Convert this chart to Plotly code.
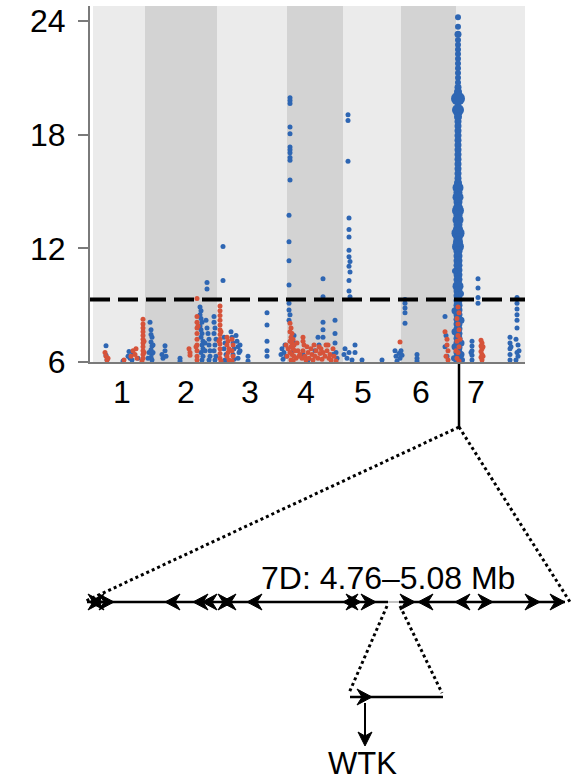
import plotly.graph_objects as go

# ------------------------------------------------------------------ data
chrom_labels = ['1', '2', '3', '4', '5', '6', '7']
chrom_starts = [0, 52, 124, 194, 250, 308, 363]
chrom_ends = [52, 124, 194, 250, 308, 363, 432]
chrom_label_pos = [29, 93, 157, 213, 270, 328, 383]
y_ticks = [6, 12, 18, 24]
threshold = 9.3

blue_points = [
    # chr 1
    (13, 6.86), (13, 6.35), (14, 6.1), (30, 6.05), (35, 6.3), (36, 6.55), (37, 6.2), (40, 6.45), (39, 6.1), (45, 6.2),
    # chr 2
    (57, 8.1), (58, 7.7), (58, 7.45), (59, 7.3), (58, 7.05), (59, 6.85), (58, 6.65), (59, 6.45), (58, 6.25), (59, 6.1),
    (60, 6.9), (60, 6.5), (56, 6.5), (55, 6.2),
    (72, 6.86), (72, 6.6), (73, 6.3), (70, 6.2), (69, 6.4), (87, 6.2), (87, 6.05),
    (107, 8.9), (108, 8.7), (107, 8.5), (108, 8.3), (109, 8.1), (107, 7.9), (108, 7.7), (109, 7.5), (108, 7.3),
    (110, 7.1), (109, 6.9), (110, 6.7), (108, 6.5), (110, 6.3), (109, 6.1),
    (114, 10.2), (114, 9.85), (113, 8.2), (114, 7.8), (115, 7.5), (116, 7.2), (116, 6.9), (117, 6.6), (117, 6.3),
    (116, 6.1), (112, 7.0), (112, 6.6),
    (121, 8.4), (121, 8.1), (122, 7.8), (121, 7.5), (123, 7.2), (122, 6.9), (121, 6.6), (123, 6.3), (122, 6.1),
    # chr 3
    (130, 12.1), (130, 10.3),
    (131, 7.3), (132, 7.0), (131, 6.7), (133, 6.4), (132, 6.1),
    (138, 7.6), (139, 7.3), (140, 7.0), (141, 6.7), (140, 6.4), (141, 6.15),
    (143, 7.4), (144, 7.1), (145, 6.8), (146, 6.5), (145, 6.2), (147, 6.6), (147, 6.9),
    (155, 6.3), (155, 6.05),
    (174, 8.6), (174, 7.95), (174, 7.1), (174, 6.6), (174, 6.3),
    (188, 6.4), (189, 6.7), (190, 6.15), (191, 6.5), (192, 6.9), (193, 6.3),
    # chr 4
    (197, 19.95), (197, 19.8), (197, 19.65), (197, 18.4), (197, 18.05), (197, 17.35), (197, 17.2), (197, 17.05),
    (197, 16.8), (197, 16.65), (197, 15.6), (196, 13.75), (196, 12.35), (196, 11.35), (196, 10.07), (196, 9.1),
    (196, 8.75), (197, 8.5), (196, 8.2),
    (201, 7.4), (202, 7.0), (200, 6.6),
    (210, 6.4), (215, 6.1), (222, 6.6), (225, 7.3), (226, 6.9),
    (230, 10.4), (230, 9.45), (230, 8.1), (230, 7.7), (230, 7.3),
    (242, 8.2), (242, 7.5), (242, 7.0), (243, 6.5), (244, 6.2), (240, 6.4),
    # chr 5
    (251, 6.4), (252, 6.7), (254, 6.2), (256, 6.5), (259, 6.1), (262, 6.9), (262, 6.5), (269, 6.1), (289, 6.1),
    (255, 19.05), (255, 18.75), (255, 16.6), (256, 13.6), (256, 13.0), (256, 12.6), (256, 11.9), (256, 11.55),
    (257, 11.3), (256, 11.05), (257, 10.75), (256, 10.3), (256, 9.75), (257, 9.45),
    (302, 6.6), (303, 6.3), (304, 6.05), (306, 6.45), (307, 6.2), (308, 6.6), (309, 6.35),
    # chr 6
    (312, 9.3), (312, 9.1), (312, 8.85), (312, 8.6), (312, 8.05),
    (324, 6.4), (324, 6.2), (324, 6.05),
    (352, 8.4), (353, 7.4), (352, 6.8), (354, 6.3),
    # chr 7
    (379, 7.1), (379, 6.85), (379, 6.6), (379, 6.35), (379, 6.1), (378, 6.5),
    (385, 10.4), (385, 9.9), (385, 9.4), (385, 9.1),
    (417, 7.3), (417, 7.0), (417, 6.7), (417, 6.4), (417, 6.1), (418, 6.8),
    (424, 9.4), (424, 9.1), (424, 8.8), (424, 8.5), (424, 8.2), (424, 7.8), (423, 7.2), (425, 6.9), (424, 6.5),
    (423, 6.1), (426, 6.6), (425, 6.3),
]

red_points = [
    # chr 1
    (12, 6.5), (13, 6.3), (14, 6.1), (15, 6.2), (31, 6.1), (38, 6.3), (40, 6.6), (42, 6.4), (43, 6.7), (44, 6.2),
    (50, 8.25), (50, 8.0), (50, 7.8), (50, 7.6), (50, 7.4), (50, 7.2), (50, 7.0), (50, 6.8), (50, 6.6), (50, 6.4),
    (50, 6.2), (49, 6.05), (51, 7.1), (51, 6.5),
    # chr 2
    (96, 6.7), (97, 6.5), (97, 6.35),
    (104, 9.35), (104, 8.4), (104, 8.1), (104, 7.8), (104, 7.5), (104, 7.2), (104, 6.9), (104, 6.6), (104, 6.3),
    (104, 6.1), (105, 7.9), (103, 6.8),
    # chr 3
    (127, 8.95), (127, 8.7), (127, 8.45), (127, 8.2), (127, 7.95), (127, 7.7), (127, 7.45), (127, 7.2), (127, 6.95),
    (127, 6.7), (127, 6.45), (127, 6.2), (128, 6.05), (126, 7.1), (128, 7.6),
    (134, 7.3), (135, 7.1), (134, 6.9), (136, 6.7), (135, 6.5), (134, 6.3), (136, 6.1),
    (139, 7.2), (140, 6.9), (139, 6.6), (140, 6.3), (139, 6.05),
    # chr 4
    (197, 8.05), (198, 7.8), (197, 7.6), (199, 7.5), (198, 7.3), (200, 7.2), (197, 7.1), (199, 7.0), (201, 6.9),
    (198, 6.8), (200, 6.7), (202, 6.6), (197, 6.5), (199, 6.4), (201, 6.3), (203, 6.2), (198, 6.1), (200, 6.05),
    (204, 7.0), (205, 6.6), (206, 6.3), (195, 6.7), (194, 6.3), (193, 6.9), (210, 7.3), (210, 7.1),
    (207, 6.4), (209, 6.2), (210, 6.6), (212, 6.3), (213, 6.1), (215, 6.5), (216, 6.2), (218, 6.7), (219, 6.4),
    (220, 6.1), (222, 6.3), (223, 6.6), (225, 6.2), (226, 6.8), (227, 6.45), (229, 6.15), (230, 6.5), (232, 6.3),
    (233, 6.9), (234, 6.6), (236, 6.2), (237, 6.4), (238, 6.1), (240, 6.7), (241, 6.3), (243, 6.05),
    (211, 6.9), (214, 6.8), (221, 6.9), (228, 6.7), (235, 6.9),
    # chr 6
    (307, 7.05),
    (352, 7.6), (354, 7.2), (354, 6.9), (355, 6.6), (353, 6.3), (355, 6.1),
    # chr 7
    (365, 8.9), (366, 8.6), (364, 8.3), (365, 8.0), (366, 7.7), (365, 7.4), (364, 7.1), (366, 6.8), (365, 6.5),
    (364, 6.2), (366, 6.05), (367, 7.2), (363, 6.6),
    (388, 7.15), (389, 7.0), (388, 6.85), (389, 6.7), (388, 6.55), (389, 6.4), (388, 6.25), (389, 6.1), (390, 6.8),
    (390, 6.3),
]

# chromosome-7 peak: (position, value, marker size)
peak_points = [
    (365, 24.2, 6), (365, 23.7, 6), (365, 23.3, 7), (365, 23.0, 6), (365, 22.75, 6), (365, 22.5, 6),
    (365, 22.25, 6), (365, 22.0, 6), (365, 21.75, 6), (365, 21.5, 6), (365, 21.25, 6), (365, 21.0, 6),
    (365, 20.75, 6), (365, 20.5, 7), (365, 20.25, 8),
    (365, 19.9, 14), (365, 19.3, 12),
    (365, 18.95, 8), (365, 18.7, 7), (365, 18.45, 7), (365, 18.2, 7), (365, 17.95, 7), (365, 17.7, 7),
    (365, 17.45, 7), (365, 17.2, 7), (365, 16.95, 7), (365, 16.7, 7), (365, 16.45, 7), (365, 16.2, 7),
    (365, 15.95, 7), (365, 15.7, 7), (365, 15.45, 8),
    (365, 15.2, 11), (365, 14.95, 9), (365, 14.7, 11), (365, 14.45, 9), (365, 14.2, 9), (365, 14.0, 12),
    (365, 13.75, 9), (365, 13.5, 11), (365, 13.25, 9), (365, 13.0, 10), (365, 12.8, 13), (365, 12.55, 9),
    (365, 12.35, 10), (365, 12.1, 12), (365, 11.85, 9), (365, 11.6, 9), (365, 11.35, 9), (365, 11.1, 9),
    (365, 10.85, 9), (365, 10.6, 9), (365, 10.35, 9), (365, 10.0, 11), (365, 9.75, 9), (365, 9.5, 9),
    (365, 9.25, 9), (365, 9.0, 9), (365, 8.75, 9), (365, 8.5, 9), (365, 8.25, 9), (365, 8.0, 9),
    (365, 7.75, 9), (365, 7.5, 9), (365, 7.25, 9), (365, 7.0, 9), (365, 6.75, 9), (365, 6.5, 9),
    (365, 6.25, 9), (365, 6.05, 9),
    (362, 10.8, 6), (368, 9.6, 6), (362, 8.7, 7), (368, 8.2, 7), (362, 7.6, 7), (368, 7.0, 7),
    (362, 6.8, 7), (368, 6.4, 7), (361, 6.2, 6), (369, 6.1, 6),
]

region_label = "7D: 4.76–5.08 Mb"
gene_label = "WTK"
# gene arrowheads on the zoomed region (tip position in px, direction +1 = right, -1 = left)
gene_tips = [89, 103, 114, 165, 193, 202, 221, 233, 247, 343, 361, 376, 415, 418, 455, 493, 540, 565]
gene_dirs = [-1, 1, 1, -1, -1, -1, -1, 1, -1, -1, 1, 1, 1, -1, -1, 1, 1, 1]

# ------------------------------------------------------------------ style
W, H = 571, 782
BLUE = '#2e66b3'
RED = '#d6533a'
LIGHT = '#ebebeb'
DARK = '#d3d3d3'
AXIS_GRAY = '#7a7a7a'
FONT = 'Liberation Sans, Arial, Helvetica, sans-serif'
FS = 32

fig = go.Figure()

# chromosome background bands
for i, (s, e) in enumerate(zip(chrom_starts, chrom_ends)):
    fig.add_shape(type='rect', xref='x', yref='y domain', x0=s, x1=e, y0=0, y1=1,
                  fillcolor=LIGHT if i % 2 == 0 else DARK, line_width=0, layer='below')

fig.add_trace(go.Scatter(x=[p[0] for p in blue_points], y=[p[1] for p in blue_points],
                         mode='markers', marker=dict(color=BLUE, size=5, line_width=0, opacity=1),
                         xaxis='x', yaxis='y', hoverinfo='skip'))
fig.add_trace(go.Scatter(x=[p[0] for p in peak_points], y=[p[1] for p in peak_points],
                         mode='markers',
                         marker=dict(color=BLUE, size=[p[2] for p in peak_points], line_width=0, opacity=1),
                         xaxis='x', yaxis='y', hoverinfo='skip'))
fig.add_trace(go.Scatter(x=[p[0] for p in red_points], y=[p[1] for p in red_points],
                         mode='markers', marker=dict(color=RED, size=5, line_width=0, opacity=1),
                         xaxis='x', yaxis='y', hoverinfo='skip'))

# significance threshold
fig.add_shape(type='line', xref='x domain', yref='y', x0=0, x1=1, y0=threshold, y1=threshold,
              line=dict(color='black', width=4, dash='20px,8px'))

# ------------------------------------------------------------------ zoom diagram (pixel overlay axes)
def seg(x0, y0, x1, y1, width=2.5, dash=None, color='black'):
    fig.add_shape(type='line', xref='x2', yref='y2', x0=x0, y0=y0, x1=x1, y1=y1,
                  line=dict(color=color, width=width, dash=dash))

def head(tx, ty, d, L=15, hh=8, notch=5):
    bx = tx - d * L
    nx = tx - d * (L - notch)
    path = f"M{tx},{ty} L{bx},{ty - hh} L{nx},{ty} L{bx},{ty + hh} Z"
    fig.add_shape(type='path', xref='x2', yref='y2', path=path, fillcolor='black', line=dict(color='black', width=1))

DOT = '3px,3px'
GENE_Y = 602
seg(459, 364, 459, 427, width=2.5)
seg(459, 427, 86, 601, width=3, dash=DOT)
seg(459, 427, 570, 602, width=3, dash=DOT)
seg(87, GENE_Y, 388, GENE_Y)
seg(388, GENE_Y, 399, GENE_Y, width=1.2, color='#9a9a9a')
seg(399, GENE_Y, 565, GENE_Y)
for t, d in zip(gene_tips, gene_dirs):
    head(t, GENE_Y, d)

# WTK inset
seg(387, 606, 349, 693, width=3, dash=DOT)
seg(400, 606, 442, 693, width=3, dash=DOT)
seg(350, 697, 443, 697)
head(372, 697, 1)
seg(365, 703, 365, 738, width=2)
fig.add_shape(type='path', xref='x2', yref='y2', path="M365,746 L358,732 L365,736 L372,732 Z",
              fillcolor='black', line=dict(color='black', width=1))

fig.add_annotation(xref='x2', yref='y2', x=388, y=578, text=region_label, showarrow=False,
                   font=dict(family=FONT, size=FS, color='black'), xanchor='center', yanchor='middle')
fig.add_annotation(xref='x2', yref='y2', x=362, y=782, text=gene_label, showarrow=False, borderpad=0,
                   font=dict(family=FONT, size=31, color='black'), xanchor='center', yanchor='bottom')

fig.update_layout(
    width=W, height=H,
    margin=dict(l=0, r=0, t=0, b=0),
    paper_bgcolor='white', plot_bgcolor='rgba(0,0,0,0)',
    showlegend=False,
    font=dict(family=FONT, size=FS, color='black'),
    xaxis=dict(domain=[90 / W, 525 / W], range=[-3, 432], anchor='y',
               showline=True, linecolor=AXIS_GRAY, linewidth=2, ticks='',
               tickvals=chrom_label_pos, ticktext=chrom_labels, tickfont=dict(size=FS, color='black'),
               ticklabelstandoff=1,
               showgrid=False, zeroline=False, fixedrange=True, automargin=False),
    yaxis=dict(domain=[(H - 362) / H, (H - 6) / H], range=[6, 24.79], anchor='x',
               showline=True, linecolor=AXIS_GRAY, linewidth=2, ticks='outside', ticklen=10, tickwidth=1.5,
               tickcolor=AXIS_GRAY, tickvals=y_ticks, tickfont=dict(size=FS, color='black'),
               ticklabelstandoff=6,
               showgrid=False, zeroline=False, fixedrange=True, automargin=False),
    xaxis2=dict(domain=[0, 1], range=[0, W], anchor='y2', visible=False, fixedrange=True),
    yaxis2=dict(domain=[0, 1], range=[H, 0], anchor='x2', visible=False, fixedrange=True),
)

fig.write_html("out.html", config={'displayModeBar': False},
               post_script="document.body.style.margin='0px';document.body.style.overflow='hidden';")
